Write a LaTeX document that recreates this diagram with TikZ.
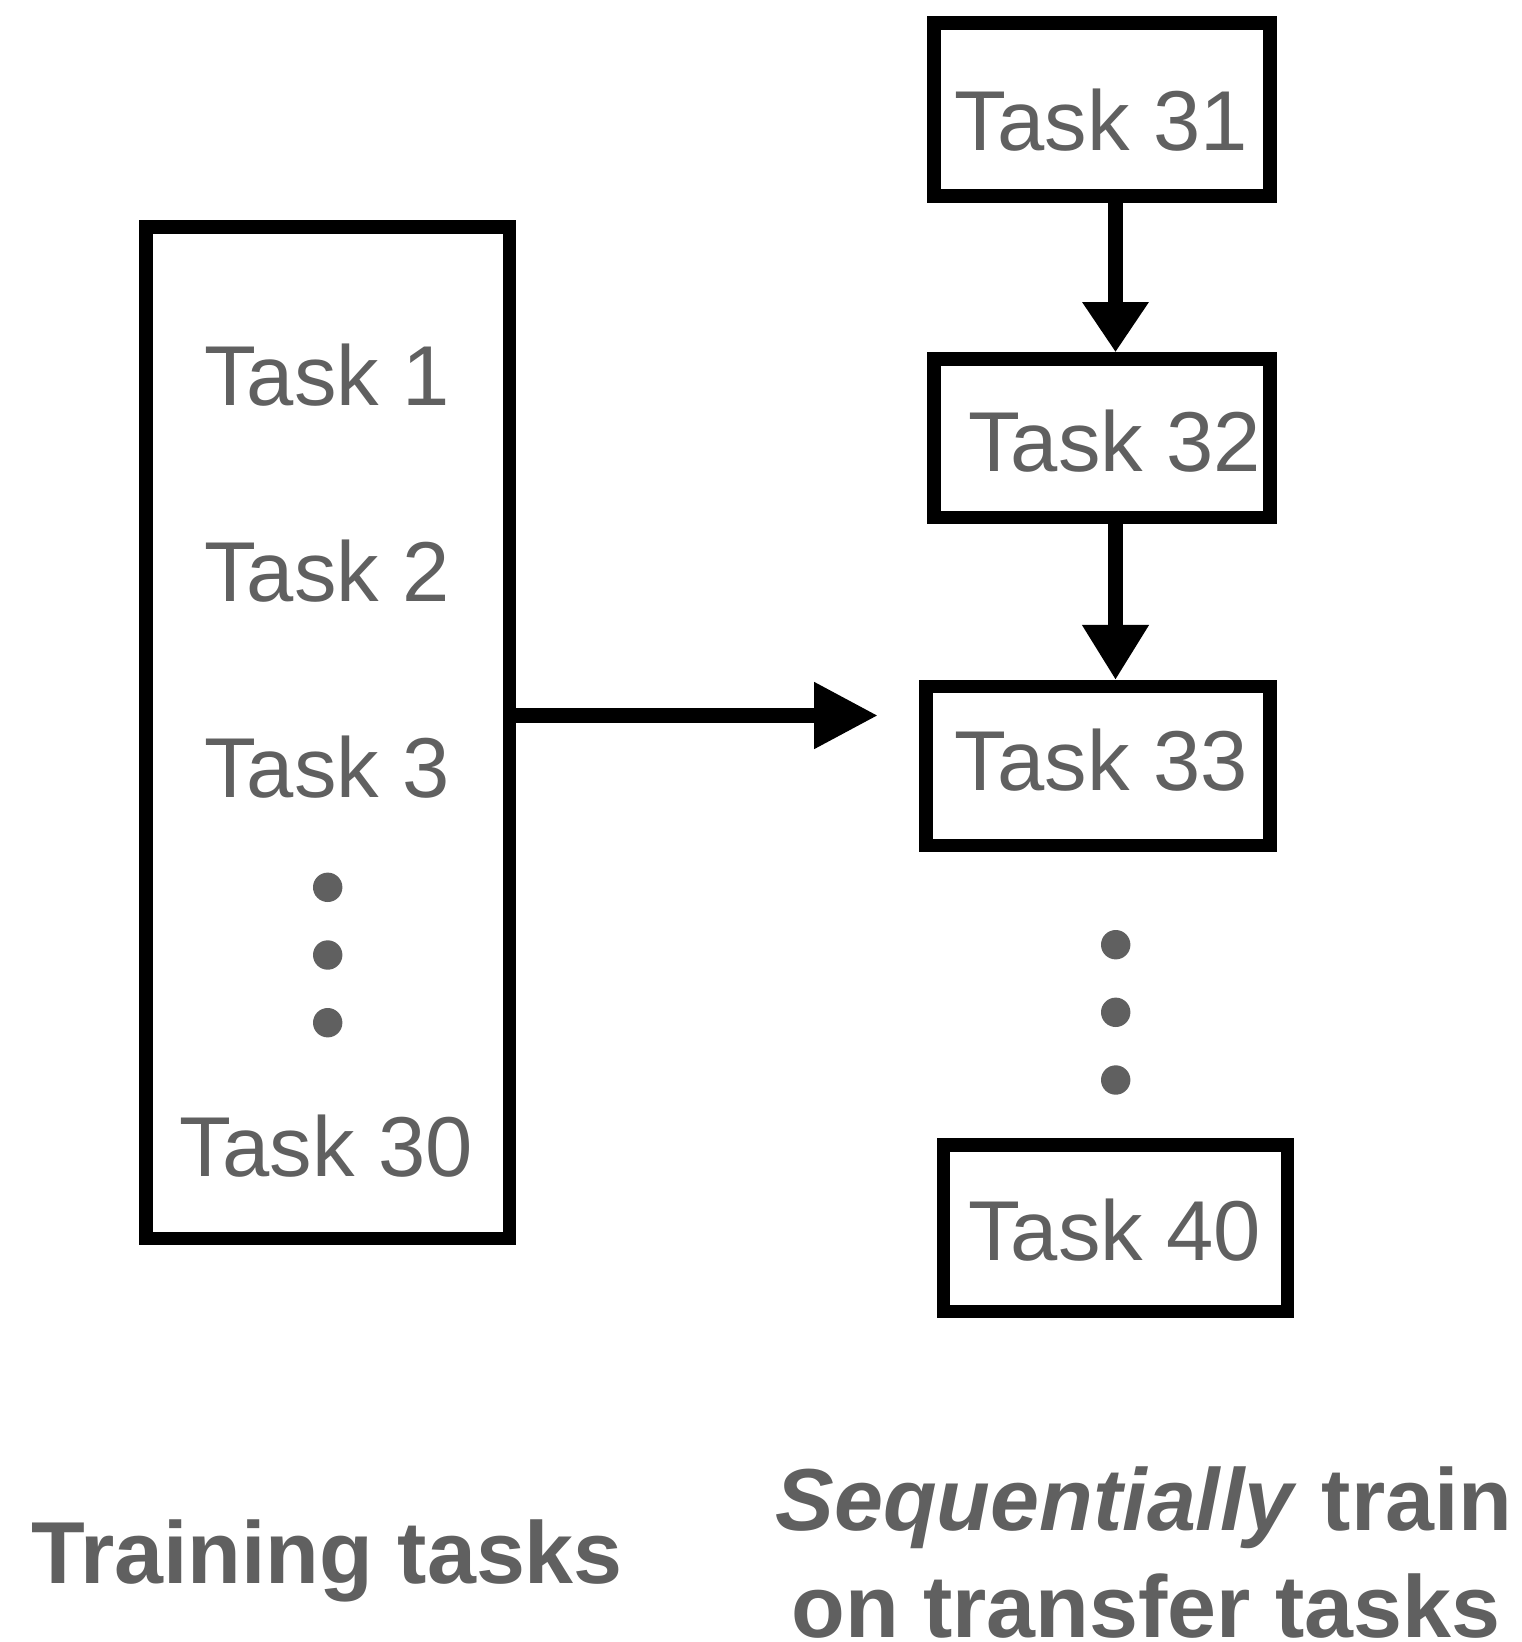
\documentclass[tikz,border=0pt]{standalone}
\usepackage{fontspec}
\setmainfont{Liberation Sans}
\usetikzlibrary{arrows.meta}
\definecolor{labelgray}{RGB}{96,96,96}
\begin{document}
\begin{tikzpicture}[x=1pt,y=-1pt,
  frame/.style={draw=black, line width=13.5pt, rectangle, inner sep=0pt},
  tasklabel/.style={anchor=base west, inner sep=0pt, text=labelgray,
    font=\fontsize{85}{100}\selectfont},
  caption/.style={anchor=base, inner sep=0pt, text=labelgray,
    font=\fontsize{88}{106}\selectfont\bfseries},
  dot/.style={circle, fill=labelgray, minimum size=29.4pt, inner sep=0pt},
  flow/.style={draw=black, line width=14.5pt,
    -{Triangle[length=#1,width=63pt]}},
  flow/.default=55pt
]
\useasboundingbox (0,0) rectangle (1522,1642);

% training tasks column
\node[frame, minimum width=363.5pt, minimum height=1011.3pt] (train) at (327.75,732.6) {};
\node[tasklabel] (t1)  at (204,405)     {Task 1};
\node[tasklabel] (t2)  at (204,601.7)   {Task 2};
\node[tasklabel] (t3)  at (204,797.3)   {Task 3};
\node[dot] (ld1) at (327.7,887.3) {};
\node[dot] (ld2) at (327.7,955)   {};
\node[dot] (ld3) at (327.7,1022.7) {};
\node[tasklabel] (t30) at (179.7,1176.7) {Task 30};

% transfer tasks, one box each
\node[frame, minimum width=336pt, minimum height=173pt]   (b31) at (1102,109.5)  {};
\node[frame, minimum width=336pt, minimum height=158.7pt] (b32) at (1102,438.3)  {};
\node[frame, minimum width=344pt, minimum height=158.6pt] (b33) at (1098,766)    {};
\node[frame, minimum width=343.8pt, minimum height=166.7pt] (b40) at (1115.6,1228.3) {};
\node[tasklabel] (t31) at (954.7,150)   {Task 31};
\node[tasklabel] (t32) at (968,471.7)   {Task 32};
\node[tasklabel] (t33) at (954.7,790.7) {Task 33};
\node[tasklabel] (t40) at (968,1260)    {Task 40};
\node[dot] (rd1) at (1115.7,944.7)  {};
\node[dot] (rd2) at (1115.7,1012.3) {};
\node[dot] (rd3) at (1115.7,1080)   {};

% connectors
\coordinate (spine) at (1115.5,0);
\coordinate (feedtip) at (878,715.5);
\draw[flow=50pt] (b31.south -| spine) -- (b32.north -| spine);
\draw[flow=55pt] (b32.south -| spine) -- (b33.north -| spine);
\draw[flow=64pt] (train.east |- feedtip) -- (feedtip);

% captions
\node[caption] (traincap) at (327,1583) {Training tasks};
\node[caption] (seqcap1) at (1144,1530) {\textit{Sequentially} train};
\node[caption] (seqcap2) at (1146,1637) {on transfer tasks};
\end{tikzpicture}
\end{document}
